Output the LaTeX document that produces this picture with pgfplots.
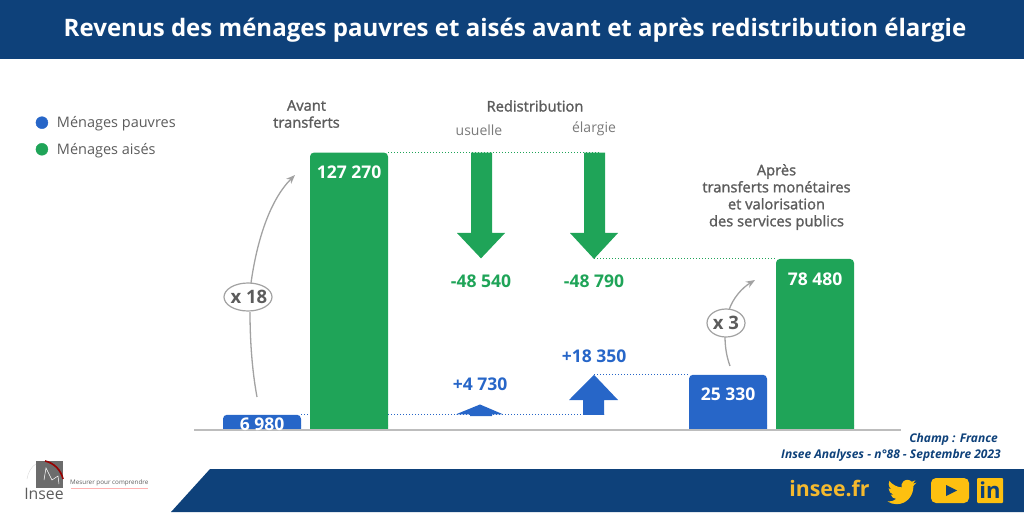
\documentclass[border=0pt]{standalone}
\usepackage{pgfplots}
\pgfplotsset{compat=1.18}
\usepackage{fontspec}
\setmainfont{Open Sans}
\newfontfamily\semib[FakeBold=1.5]{Open Sans}
\usetikzlibrary{arrows.meta,svg.path}
\definecolor{vert}{HTML}{1FA458}
\definecolor{bleu}{HTML}{2766C8}
\definecolor{navy}{HTML}{0E417A}
\definecolor{jaune}{HTML}{FDC010}
\definecolor{inseeor}{HTML}{F4B92E}
\definecolor{gristxt}{HTML}{5C5C5C}
\definecolor{gris2}{HTML}{7A7A7A}
\definecolor{fleche}{HTML}{A2A2A2}
\definecolor{axe}{HTML}{BDBDBD}
\newcommand{\fs}[1]{\fontsize{#1}{#1}\selectfont}
\begin{document}
\begin{tikzpicture}[x=1pt,y=1pt]
\useasboundingbox (0,0) rectangle (1024,512);
% banners
\begin{scope}[shift={(0,512)},y=-1pt]
\fill[navy] (0,0) rectangle (1024,59);
\fill[navy] (171,512) -- (210,469) -- (1024,469) -- (1024,512) -- cycle;
\end{scope}
\begin{axis}[at={(0,0)},anchor=south west,scale only axis,width=1024pt,height=512pt,
  xmin=0,xmax=1024,ymin=-37615,ymax=197248,axis lines=none,clip=false,
  legend style={at={(0.0349,0.777)},anchor=north west,draw=none,fill=none,row sep=10pt,column sep=7pt,
    font=\fs{14.5}\color{gristxt},inner sep=0pt},legend cell align=left,
  legend entries={Ménages pauvres,Ménages aisés}]
\addlegendimage{only marks,mark=*,mark size=6pt,mark options={fill=bleu,draw=bleu}}
\addlegendimage{only marks,mark=*,mark size=6pt,mark options={fill=vert,draw=vert}}
% dotted guides
\addplot[vert,dash pattern=on 1.2pt off 1.8pt,line width=1pt] coordinates {(388,127270) (600,127270)};
\addplot[vert,dash pattern=on 1.2pt off 1.8pt,line width=1pt] coordinates {(594,78480) (776,78480)};
\addplot[bleu,dash pattern=on 1.2pt off 1.8pt,line width=0.9pt] coordinates {(301,6980) (604,6980)};
\addplot[bleu,dash pattern=on 1.2pt off 1.8pt,line width=0.9pt] coordinates {(594,25330) (689,25330)};
% bars
\addplot[ybar,bar width=78pt,bar shift=0pt,fill=bleu,draw=none,rounded corners=4pt] coordinates {(262,6980) (728,25330)};
\addplot[ybar,bar width=78pt,bar shift=0pt,fill=vert,draw=none,rounded corners=4pt] coordinates {(349,127270) (815,78480)};
\addplot[ybar,bar width=78pt,bar shift=0pt,fill=bleu,draw=none] coordinates {(262,2000) (728,2000)};
\addplot[ybar,bar width=78pt,bar shift=0pt,fill=vert,draw=none] coordinates {(349,2000) (815,2000)};
% redistribution arrows
\addplot[fill=vert,draw=none] coordinates {(471,127270) (492,127270) (492,90367) (505,90367) (481,78730) (457,90367) (471,90367)} --cycle;
\addplot[fill=vert,draw=none] coordinates {(584,127270) (605,127270) (605,90367) (618,90367) (594,78480) (570,90367) (584,90367)} --cycle;
\addplot[fill=bleu,draw=none] coordinates {(470,6400) (492,6400) (492,7200) (503,7200) (480,11710) (456,7200) (470,7200)} --cycle;
\addplot[fill=bleu,draw=none] coordinates {(583,6980) (604,6980) (604,13760) (618,13760) (594,25330) (569,13760) (583,13760)} --cycle;
% baseline
\addplot[axe,line width=1.4pt] coordinates {(194,0) (901,0)};
\end{axis}
\begin{scope}[shift={(0,512)},y=-1pt]
\node[white,font=\bfseries\fs{24.05}] at (515,30) {Revenus des ménages pauvres et aisés avant et après redistribution élargie};
% heads
\node[gristxt,font=\semib\fontsize{14.7}{17}\selectfont,align=center] at (306.5,114) {Avant\\transferts};
\node[gristxt,font=\semib\fs{14.7}] at (535,106) {Redistribution};
\node[gris2,font=\fs{14}] at (479,130) {usuelle};
\node[gris2,font=\fs{14}] at (594,129) {élargie};
\node[gristxt,font=\semib\fontsize{14.7}{17}\selectfont,align=center] at (776.5,197) {Après\\transferts monétaires\\et valorisation\\des services publics};
% values
\node[white,font=\bfseries\fs{17.5}] at (349,172) {127 270};
\node[white,font=\bfseries\fs{17.5}] at (815,279) {78 480};
\node[white,font=\bfseries\fs{17.5}] at (728,394) {25 330};
\node[white,font=\bfseries\fs{17.5}] at (262,424) {6 980};
\node[vert,font=\bfseries\fs{17.5}] at (481,281) {-48 540};
\node[vert,font=\bfseries\fs{17.5}] at (594,281) {-48 790};
\node[bleu,font=\bfseries\fs{17.5}] at (480,384) {+4 730};
\node[bleu,font=\bfseries\fs{17.5}] at (594,356) {+18 350};
% growth arrows
\draw[fleche,line width=1.3pt] (257,397) .. controls (252,370) and (250,340) .. (250,312);
\draw[fleche,line width=1.3pt,-{Stealth[length=9pt,width=7pt]}] (251,283) .. controls (257,240) and (270,200) .. (295,175);
\draw[fleche,line width=1.2pt,fill=white] (248,297) ellipse (24 and 14);
\node[gristxt,font=\bfseries\fs{18.5}] at (249,297) {x 18};
\draw[fleche,line width=1.3pt] (730,366) .. controls (726,355) and (725,345) .. (725,336);
\draw[fleche,line width=1.3pt,-{Stealth[length=9pt,width=7pt]}] (729,310) .. controls (733,298) and (742,288) .. (755,280);
\draw[fleche,line width=1.2pt,fill=white] (726,323) ellipse (19 and 14);
\node[gristxt,font=\bfseries\fs{18.5}] at (726,323) {x 3};
% source
\node[navy,font=\bfseries\itshape\fs{12},anchor=east,inner sep=0pt] at (998,439.5) {Champ : France};
\node[navy,font=\bfseries\itshape\fs{12},anchor=east,inner sep=0pt] at (1001,455.5) {Insee Analyses - n°88 - Septembre 2023};
% logo
\fill[gray!85!black] (36,461) rectangle (63,488);
\draw[gray!30,line width=0.4pt] (27,479) .. controls (28,472) and (32,466) .. (36,464);
\draw[white,line width=0.5pt] (44,480) -- (46,468) -- (52,480) -- (58,476) -- (59,484);
\draw[red!60!black,line width=1.6pt] (45,461) .. controls (54,463) and (61,470) .. (63,479);
\node[gristxt,font=\fs{15.8}] at (44,494) {Insee};
\node[gristxt,font=\fs{6.3},anchor=west,inner sep=0pt] at (70,483) {Mesurer pour comprendre};
\draw[red!30,line width=0.4pt] (71,488) -- (148,488);
% footer
\node[inseeor,font=\bfseries\fs{21.3}] at (829.5,488) {insee.fr};
\fill[jaune,rounded corners=5pt] (931,478) rectangle (969,503);
\fill[navy] (946,485) -- (957,490.5) -- (946,496) -- cycle;
\fill[jaune,rounded corners=1pt] (977,478) rectangle (1003,503);
\node[navy,font=\bfseries\fs{22}] at (990,490) {in};
\begin{scope}[shift={(887.5,477)},yscale=-1.25,xscale=1.2]
\fill[jaune] svg {M23.953 4.57a10 10 0 0 1 -2.825.775 4.958 4.958 0 0 0 2.163-2.723c-.951.555-2.005.959-3.127 1.184a4.92 4.92 0 0 0 -8.384 4.482C7.69 8.095 4.067 6.13 1.64 3.162a4.822 4.822 0 0 0 -.666 2.475c0 1.71.87 3.213 2.188 4.096a4.904 4.904 0 0 1 -2.228-.616v.06a4.923 4.923 0 0 0 3.946 4.827 4.996 4.996 0 0 1 -2.212.085 4.936 4.936 0 0 0 4.604 3.417 9.867 9.867 0 0 1 -6.102 2.105c-.39 0-.779-.023-1.17-.067a13.995 13.995 0 0 0 7.557 2.209c9.053 0 13.998-7.496 13.998-13.985 0-.21 0-.42-.015-.63A9.935 9.935 0 0 0 24 4.59z};
\end{scope}
\end{scope}
\end{tikzpicture}
\end{document}
